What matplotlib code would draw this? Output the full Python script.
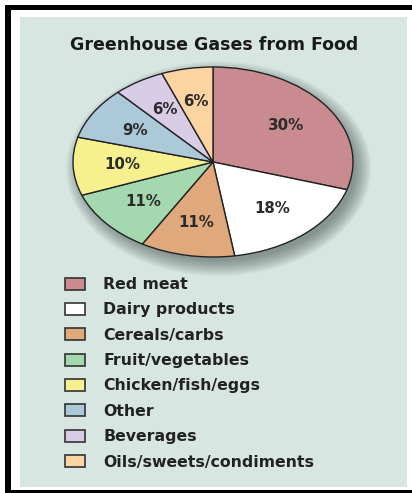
import numpy as np
import matplotlib
matplotlib.use('Agg')
import matplotlib.pyplot as plt
from matplotlib.patches import Rectangle, Ellipse

# --------------------------------------------------
# data
# --------------------------------------------------
categories = ["Red meat", "Dairy products", "Cereals/carbs", "Fruit/vegetables",
              "Chicken/fish/eggs", "Other", "Beverages", "Oils/sweets/condiments"]
shares = [30, 18, 11, 11, 10, 9, 6, 6]
pct_labels = ["30%", "18%", "11%", "11%", "10%", "9%", "6%", "6%"]
colors = ["#c98b8f", "#ffffff", "#dfa97c", "#a4d8ae",
          "#f6f08e", "#abc9d9", "#d9cce7", "#fcd4a2"]
title = "Greenhouse Gases from Food"

# --------------------------------------------------
# figure set up
# --------------------------------------------------
W, H = 412, 493
fig = plt.figure(figsize=(W/100, H/100), dpi=100, facecolor='white')

def px(x, y, w, h):
    # pixel box (top-left origin) -> figure fraction
    return [x/W, 1 - (y + h)/H, w/W, h/H]

# black frame + light panel
for box in [(5, 5, 407, 5), (5, 5, 6, 488), (5, 490, 407, 3)]:
    l, b, w, h = px(*box)
    fig.add_artist(Rectangle((l, b), w, h, transform=fig.transFigure,
                             facecolor='black', edgecolor='none', zorder=0))
l, b, w, h = px(20, 17, 387, 470)
fig.add_artist(Rectangle((l, b), w, h, transform=fig.transFigure,
                         facecolor='#d8e6e2', edgecolor='none', zorder=0))

fig.text(214/W, 1 - 45/H, title, ha='center', va='center',
         fontsize=12.5, fontweight='bold', family='DejaVu Sans', color='#1a1a1a')

# --------------------------------------------------
# pie (drawn as ellipse)
# --------------------------------------------------
ax = fig.add_axes(px(73, 67, 280, 190))
ax.set_facecolor('none')

# soft drop shadow, bottom right
for k in range(10):
    ax.add_patch(Ellipse((0.04, -0.07), 1.96 + 0.024*k, 1.94 + 0.035*k,
                         facecolor='#2f403d', edgecolor='none', alpha=0.06,
                         zorder=0, clip_on=False))

wedges, texts = ax.pie(shares, colors=colors, startangle=90, counterclock=False,
                       labels=pct_labels, labeldistance=0.65,
                       wedgeprops=dict(edgecolor='#222222', linewidth=1.0),
                       textprops=dict(fontsize=10.8, fontweight='bold',
                                      color='#2b2b2b', ha='center', va='center'))
for w_ in wedges:
    w_.set_zorder(2)
for t in texts:
    t.set_ha('center')
    t.set_va('center')
    t.set_zorder(3)

ax.set_aspect('auto')
ax.set_xlim(-1, 1)
ax.set_ylim(-1, 1)
ax.axis('off')

# --------------------------------------------------
# legend
# --------------------------------------------------
leg = fig.legend(wedges, categories, loc='upper left',
                 bbox_to_anchor=(65/W, 1 - 277/H), frameon=False,
                 prop=dict(size=11.3, weight='bold', family='DejaVu Sans'),
                 handlelength=1.3, handleheight=0.8, handletextpad=1.15,
                 labelspacing=0.66, borderpad=0, borderaxespad=0)
for t in leg.get_texts():
    t.set_color('#222222')
for p in leg.get_patches():
    p.set_edgecolor('#333333')
    p.set_linewidth(1.2)

plt.savefig('out.png', dpi=100)
